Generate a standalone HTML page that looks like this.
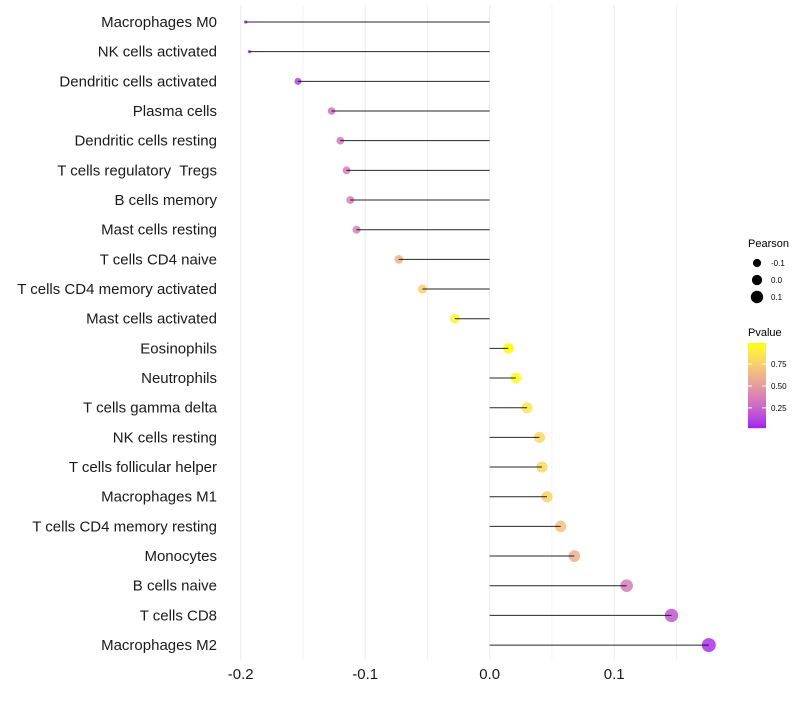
<!DOCTYPE html>
<html><head><meta charset="utf-8"><style>
body{margin:0;background:#fff;font-family:"Liberation Sans",sans-serif}
svg text{font-family:"Liberation Sans",sans-serif}
</style></head><body>
<svg id="chart" width="800" height="700" xmlns="http://www.w3.org/2000/svg">
<g id="grid"></g>
<g id="marks"></g>
<g id="ylabels"></g>
<g id="xlabels"></g>
<g id="legend"></g>
</svg>
<script>
const categories=["Macrophages M0","NK cells activated","Dendritic cells activated","Plasma cells","Dendritic cells resting","T cells regulatory  Tregs","B cells memory","Mast cells resting","T cells CD4 naive","T cells CD4 memory activated","Mast cells activated","Eosinophils","Neutrophils","T cells gamma delta","NK cells resting","T cells follicular helper","Macrophages M1","T cells CD4 memory resting","Monocytes","B cells naive","T cells CD8","Macrophages M2"];
const pearson=[-0.196,-0.193,-0.154,-0.127,-0.120,-0.115,-0.112,-0.107,-0.073,-0.054,-0.028,0.015,0.021,0.030,0.040,0.042,0.046,0.057,0.068,0.110,0.146,0.176];
const pvalue=[0.02,0.03,0.12,0.3,0.33,0.36,0.37,0.38,0.62,0.75,0.93,0.99,0.96,0.86,0.8,0.8,0.77,0.7,0.6,0.36,0.2,0.06];
const xTicks=[-0.2,-0.1,0.0,0.1];
const xTickLabels=["-0.2","-0.1","0.0","0.1"];
const sizeLegend=[-0.1,0.0,0.1];
const pLegend=[0.25,0.5,0.75];

const NS="http://www.w3.org/2000/svg";
function mk(t,a,p){const e=document.createElementNS(NS,t);for(const k in a)e.setAttribute(k,a[k]);p.appendChild(e);return e;}
const xs=v=>489.7+v*1245;
const ys=i=>22+i*29.67;
const rad=v=>v<-0.17?1.6:3.5+(v+0.154)*10.6;
function toLab(r,g,b){const f=c=>{c/=255;return c>0.04045?Math.pow((c+0.055)/1.055,2.4):c/12.92};r=f(r);g=f(g);b=f(b);
let X=(r*0.4124+g*0.3576+b*0.1805)/0.95047,Y=r*0.2126+g*0.7152+b*0.0722,Z=(r*0.0193+g*0.1192+b*0.9505)/1.08883;
const h=t=>t>0.008856?Math.cbrt(t):7.787*t+16/116;X=h(X);Y=h(Y);Z=h(Z);return[116*Y-16,500*(X-Y),200*(Y-Z)];}
function fromLab(L,a,b){let Y=(L+16)/116,X=a/500+Y,Z=Y-b/200;const h=t=>t*t*t>0.008856?t*t*t:(t-16/116)/7.787;
X=h(X)*0.95047;Y=h(Y);Z=h(Z)*1.08883;let r=X*3.2406+Y*-1.5372+Z*-0.4986,g=X*-0.9689+Y*1.8758+Z*0.0415,bb=X*0.0557+Y*-0.2040+Z*1.0570;
const f=c=>{c=c>0.0031308?1.055*Math.pow(c,1/2.4)-0.055:12.92*c;return Math.round(Math.max(0,Math.min(1,c))*255)};return `rgb(${f(r)},${f(g)},${f(bb)})`;}
const labLo=toLab(160,32,240),labHi=toLab(255,255,0);
const pmin=0.02,pmax=0.99;
function col(p){const t=Math.max(0,Math.min(1,(p-pmin)/(pmax-pmin)));return fromLab(labLo[0]+(labHi[0]-labLo[0])*t,labLo[1]+(labHi[1]-labLo[1])*t,labLo[2]+(labHi[2]-labLo[2])*t);}

const grid=document.getElementById('grid');
for(let k=0;k<=7;k++){const v=-0.2+k*0.05;const l=mk('line',{x1:xs(v),x2:xs(v),y1:5,y2:660,stroke:'#ebebeb','stroke-width':k%2===0?1:0.6},grid);

}
const marks=document.getElementById('marks'),yl=document.getElementById('ylabels');
categories.forEach((c,i)=>{
 const pt=mk('circle',{cx:xs(pearson[i]),cy:ys(i),r:rad(pearson[i]),fill:col(pvalue[i]),'fill-opacity':0.85},marks);
 
 
 const ln=mk('line',{x1:xs(0),x2:xs(pearson[i]),y1:ys(i),y2:ys(i),stroke:'#000','stroke-width':1,'stroke-opacity':0.85},marks);
 
 
 const t=mk('text',{x:217,y:ys(i)+5,'text-anchor':'end','font-size':15,fill:'#1a1a1a','xml:space':'preserve'},yl);t.textContent=c;
 t.style.whiteSpace='pre';
 
 
});
const xl=document.getElementById('xlabels');
xTicks.forEach((v,i)=>{const t=mk('text',{x:xs(v),y:679,'text-anchor':'middle','font-size':15,fill:'#1a1a1a'},xl);t.textContent=xTickLabels[i];
 
 });
const lg=document.getElementById('legend');
let tl=mk('text',{x:748,y:247,'font-size':11,fill:'#000'},lg);tl.textContent='Pearson';


sizeLegend.forEach((v,i)=>{const cy=263+i*17;
 const c=mk('circle',{cx:757,cy:cy,r:rad(v),fill:'#000'},lg);
 
 
 const tt=mk('text',{x:771,y:cy+3,'font-size':8,fill:'#000'},lg);tt.textContent=v.toFixed(1);
 
 });
tl=mk('text',{x:748,y:336,'font-size':11,fill:'#000'},lg);tl.textContent='Pvalue';


const cbTop=343,cbBot=428;
for(let k=0;k<85;k++){const p=pmax-(pmax-pmin)*k/85;const r=mk('rect',{x:748,y:cbTop+k,width:18,height:1.2,fill:col(p)},lg);
 
 }
pLegend.forEach(p=>{const yy=cbTop+(pmax-p)/(pmax-pmin)*(cbBot-cbTop);
 const a=mk('line',{x1:748,x2:752,y1:yy,y2:yy,stroke:'#fff'},lg);
 
 
 const b=mk('line',{x1:762,x2:766,y1:yy,y2:yy,stroke:'#fff'},lg);
 
 
 const tt=mk('text',{x:771,y:yy+3,'font-size':8,fill:'#000'},lg);tt.textContent=p.toFixed(2);
 
 });
</script>
</body></html>
